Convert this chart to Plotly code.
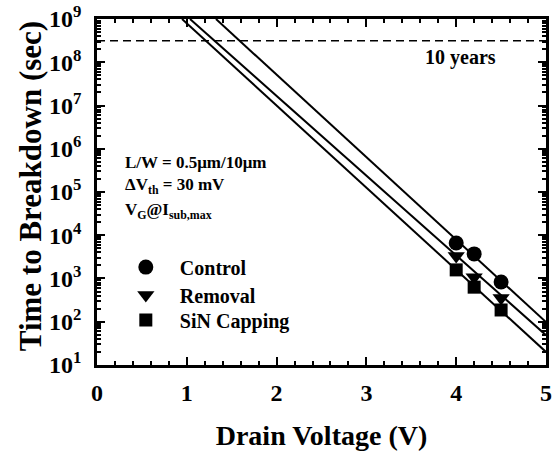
import plotly.graph_objects as go

# Data
voltage = [4.0, 4.2, 4.5]
control = [6600, 3700, 830]
removal = [3300, 1070, 355]
sin_capping = [1580, 630, 187]

# Fit lines (end points)
control_fit_v = [1.325, 5.0]
control_fit_t = [1e9, 98]
removal_fit_v = [1.036, 5.0]
removal_fit_t = [1e9, 49]
sin_fit_v = [0.947, 5.0]
sin_fit_t = [1e9, 20]

ten_years_v = [0, 5]
ten_years_t = [3.15e8, 3.15e8]

y_tickvals = [1e1, 1e2, 1e3, 1e4, 1e5, 1e6, 1e7, 1e8, 1e9]
y_ticktext = ["10<sup>1</sup>", "10<sup>2</sup>", "10<sup>3</sup>", "10<sup>4</sup>", "10<sup>5</sup>",
              "10<sup>6</sup>", "10<sup>7</sup>", "10<sup>8</sup>", "10<sup>9</sup>"]

FONT = "Liberation Serif"

fig = go.Figure()

for fv, ft in [(control_fit_v, control_fit_t), (removal_fit_v, removal_fit_t), (sin_fit_v, sin_fit_t)]:
    fig.add_trace(go.Scatter(x=fv, y=ft, mode="lines", line=dict(color="black", width=2),
                             showlegend=False, hoverinfo="skip"))

fig.add_trace(go.Scatter(x=ten_years_v, y=ten_years_t, mode="lines",
                         line=dict(color="black", width=1.5, dash="8px,5px"),
                         showlegend=False, hoverinfo="skip"))

fig.add_trace(go.Scatter(x=voltage, y=control, mode="markers", name="Control", legend="legend",
                         marker=dict(symbol="circle", size=15, color="black")))
fig.add_trace(go.Scatter(x=voltage, y=removal, mode="markers", name="Removal", legend="legend2",
                         marker=dict(symbol="triangle-down", size=15, color="black")))
fig.add_trace(go.Scatter(x=voltage, y=sin_capping, mode="markers", name="SiN Capping", legend="legend3",
                         marker=dict(symbol="square", size=13, color="black")))

axis_common = dict(
    showline=True, linecolor="black", linewidth=2.5, mirror="ticks",
    ticks="inside", ticklen=8, tickwidth=2, tickcolor="black",
    showgrid=False, zeroline=False, automargin=False,
    tickfont=dict(family=FONT, size=24, color="black", weight="bold"),
)

fig.update_xaxes(
    range=[0, 5], dtick=1, tick0=0,
    title=dict(text="Drain Voltage (V)", font=dict(family=FONT, size=28, color="black", weight="bold"), standoff=21),
    minor=dict(ticks="inside", ticklen=4, tickwidth=1.5, tickcolor="black", dtick=0.2, showgrid=False),
    ticklabelstandoff=4,
    **axis_common,
)
fig.update_yaxes(
    type="log", range=[0.9995, 9.0005], tickvals=y_tickvals, ticktext=y_ticktext,
    minor=dict(ticks="inside", ticklen=4, tickwidth=1.5, tickcolor="black", dtick="D1", showgrid=False),
    ticklabelstandoff=8,
    **axis_common,
)

# y-axis title as rotated annotation (reference title is larger and slightly above center)
fig.add_annotation(x=-0.149, y=0.517, xref="paper", yref="paper", xanchor="center", yanchor="middle",
                   text="Time to Breakdown (sec)", textangle=-90, showarrow=False,
                   font=dict(family=FONT, size=31, color="black", weight="bold"))

ann_font = dict(family=FONT, size=17, color="black", weight="bold")
fig.add_annotation(x=0.058, y=0.584, xref="paper", yref="paper", xanchor="left", yanchor="middle",
                   text="L/W = 0.5μm/10μm", showarrow=False, font=ann_font)
fig.add_annotation(x=0.058, y=0.516, xref="paper", yref="paper", xanchor="left", yanchor="middle",
                   text="ΔV<sub>th</sub> = 30 mV", showarrow=False, font=ann_font)
fig.add_annotation(x=0.058, y=0.444, xref="paper", yref="paper", xanchor="left", yanchor="middle",
                   text="V<sub>G</sub>@I<sub>sub,max</sub>", showarrow=False, font=ann_font)
fig.add_annotation(x=0.727, y=0.89, xref="paper", yref="paper", xanchor="left", yanchor="middle",
                   text="10 years", showarrow=False, font=dict(family=FONT, size=20, color="black", weight="bold"))

leg_common = dict(xanchor="left", yanchor="middle",
                  font=dict(family=FONT, size=20, color="black", weight="bold"),
                  bgcolor="rgba(0,0,0,0)", itemwidth=58)

fig.update_layout(
    width=558, height=455,
    margin=dict(l=97, r=12, t=19, b=90),
    plot_bgcolor="white", paper_bgcolor="white",
    legend=dict(x=0.033, y=0.283, **leg_common),
    legend2=dict(x=0.033, y=0.202, **leg_common),
    legend3=dict(x=0.033, y=0.130, **leg_common),
)

fig.write_html("out.html")
